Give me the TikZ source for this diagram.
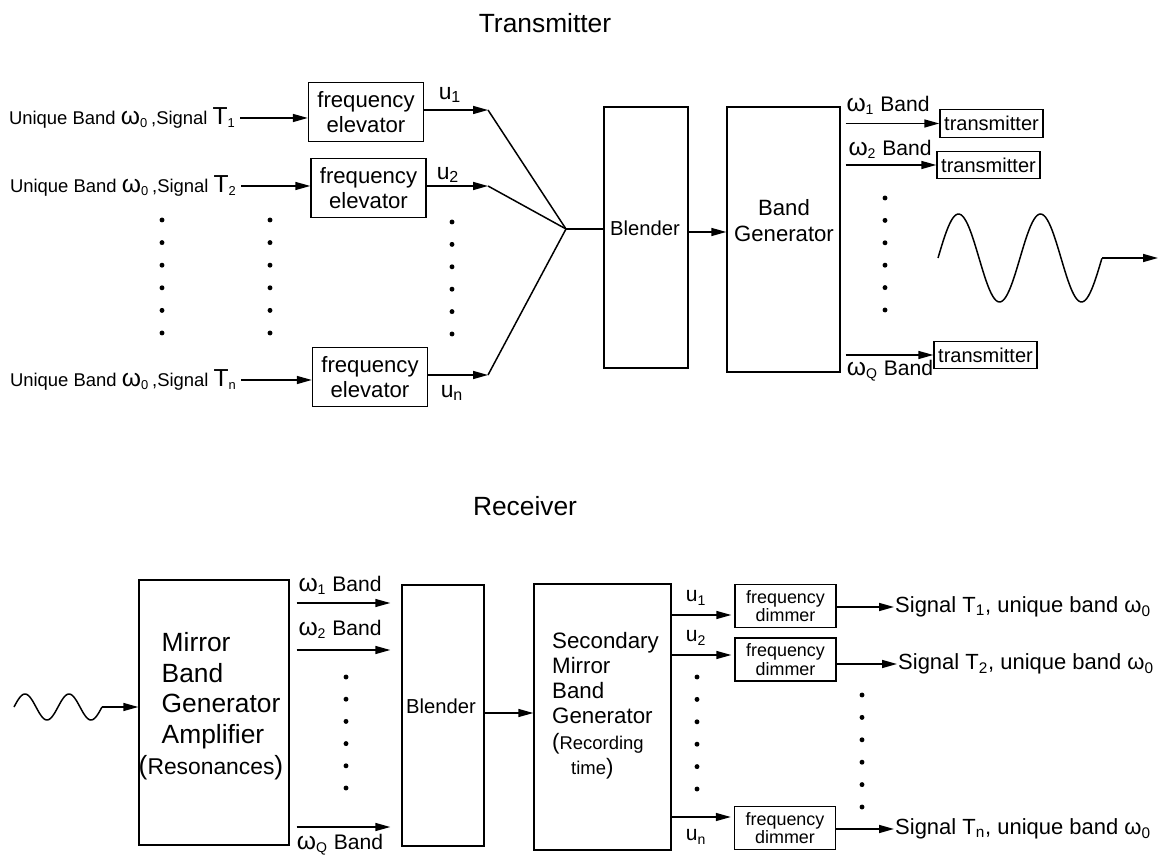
\documentclass[tikz,border=0pt]{standalone}
\usepackage{fontspec}
\setmainfont{Liberation Sans}
\usetikzlibrary{arrows.meta}
\newcommand{\omg}[1]{{\fontsize{14}{14}\selectfont ω}\textsubscript{#1}}

\begin{document}
\begin{tikzpicture}[x=0.02cm, y=-0.02cm,
      box/.style={draw, line width=0.8pt, inner sep=0pt},
      elev/.style={box, minimum width=2.3cm, minimum height=1.17cm, align=center,
                   font=\fontsize{12.6}{14.2}\selectfont},
      txbox/.style={box, minimum width=2.06cm, minimum height=0.55cm,
                    font=\fontsize{11.4}{12}\selectfont},
      dimbox/.style={box, minimum width=2.02cm, minimum height=0.86cm, align=center,
                     font=\fontsize{10.2}{10.5}\selectfont},
      boxtxt/.style={inner sep=0.5pt, align=center, font=\fontsize{12.6}{14.7}\selectfont},
      arr/.style={-{Triangle[length=0.3cm, width=0.16cm]}, line width=0.85pt},
      lnk/.style={line width=0.85pt},
      inlab/.style={anchor=east, inner sep=0.5pt, font=\fontsize{10.5}{12}\selectfont},
      blab/.style={inner sep=0.5pt, font=\fontsize{12}{14}\selectfont},
      ulab/.style={inner sep=0.5pt, font=\fontsize{13}{14}\selectfont},
      siglab/.style={anchor=west, inner sep=0.5pt, font=\fontsize{12.5}{14}\selectfont},
      title/.style={font=\fontsize{15}{17}\selectfont}]
  \useasboundingbox (0,0) rectangle (1159,857);

  % transmitter
  \node[title] (txtitle) at (545,23) {Transmitter};
  \node[inlab] (in1) at (237,118) {Unique Band \omg{0}\,,Signal {\fontsize{14}{14}\selectfont T}\textsubscript{1}};
  \node[inlab] (in2) at (238,186) {Unique Band \omg{0}\,,Signal {\fontsize{14}{14}\selectfont T}\textsubscript{2}};
  \node[inlab] (inn) at (238,380) {Unique Band \omg{0}\,,Signal {\fontsize{14}{14}\selectfont T}\textsubscript{n}};
  \node[elev] (elev1) at (366,112)   {frequency\\elevator};
  \node[elev] (elev2) at (368.5,188) {frequency\\elevator};
  \node[elev] (elevn) at (370,377)   {frequency\\elevator};
  \draw[arr, shorten <=0.06cm] (in1.east) -- (in1.east -| elev1.west);
  \draw[arr, shorten <=0.06cm] (in2.east) -- (in2.east -| elev2.west);
  \draw[arr, shorten <=0.06cm] (inn.east) -- (inn.east -| elevn.west);
  \foreach \k in {0,...,5} {
    \fill (162,{220+22.6*\k}) circle (1.4pt);
    \fill (270,{220+22.6*\k}) circle (1.4pt);
    \fill (452,{222+22.4*\k}) circle (1.4pt);
  }
  \coordinate (t1) at (488,110);
  \coordinate (t2) at (488,186);
  \coordinate (tn) at (488,375);
  \coordinate (mix) at (566,229);
  \draw[arr] (elev1.east |- t1) -- (t1);
  \draw[arr] (elev2.east |- t2) -- (t2);
  \draw[arr] (elevn.east |- tn) -- (tn);
  \node[ulab] (u1) at (450,95)  {u\textsubscript{1}};
  \node[ulab] (u2) at (448,175) {u\textsubscript{2}};
  \node[ulab] (un) at (452,393) {u\textsubscript{n}};
  \draw[lnk] (t1) -- (mix);
  \draw[lnk] (t2) -- (mix);
  \draw[lnk] (tn) -- (mix);
  \node[box, minimum width=1.68cm, minimum height=5.22cm] (blend) at (646,237.5) {};
  \node[boxtxt, font=\fontsize{11.5}{13}\selectfont] (blendtxt) at (645,228) {Blender};
  \draw[lnk] (mix) -- (mix -| blend.west);
  \node[box, minimum width=2.26cm, minimum height=5.3cm] (bgen) at (783.5,239.5) {};
  \node[boxtxt] (bgentxt) at (784,221) {Band\\Generator};
  \draw[arr] (blend.east |- 0,232) -- (bgen.west |- 0,232);
  \node[txbox] (tx1) at (991.5,123.5) {transmitter};
  \node[txbox] (tx2) at (988.5,165)   {transmitter};
  \node[txbox] (txq) at (985.5,355)   {transmitter};
  \draw[arr, shorten <=0.1cm] (bgen.east |- tx1.west) -- (tx1.west);
  \draw[arr, shorten <=0.1cm] (bgen.east |- tx2.west) -- (tx2.west);
  \draw[arr, shorten <=0.1cm] (bgen.east |- txq.west) -- (txq.west);
  \node[blab] (w1) at (888,105) {\omg{1} Band};
  \node[blab] (w2) at (890,149) {\omg{2} Band};
  \node[blab] (wq) at (890,371) {\omg{Q} Band};
  \foreach \k in {0,...,5}
    \fill (885,{198+22.4*\k}) circle (1.4pt);
  \draw[lnk] plot[domain=0:2, samples=100, smooth] ({938+82*\x},{258-44*sin(360*\x)});
  \coordinate (wend) at (1102,258);
  \coordinate (wtip) at (1158,258);
  \draw[arr] (wend) -- (wtip);

  % receiver
  \node[title] (rxtitle) at (525,506) {Receiver};
  \draw[lnk] plot[domain=0:2, samples=80, smooth] ({14+44*\x},{707-13*sin(360*\x)});
  \coordinate (rwend) at (102,707);
  \node[box, minimum width=3cm, minimum height=5.3cm] (mirror) at (214,712.5) {};
  \node[inner sep=0pt, align=left, font=\fontsize{15}{17.5}\selectfont] (mirtxt) at (211,706)
    {\hspace*{0.46cm}Mirror\\\hspace*{0.46cm}Band\\\hspace*{0.46cm}Generator\\\hspace*{0.46cm}Amplifier\\
     ({\fontsize{13}{17.5}\selectfont Resonances})};
  \draw[arr] (rwend) -- (mirror.west |- rwend);
  \node[box, minimum width=1.64cm, minimum height=5.22cm] (rblend) at (443,715.5) {};
  \node[boxtxt, font=\fontsize{11.5}{13}\selectfont] (rblendtxt) at (441,706) {Blender};
  \draw[arr, shorten <=0.14cm, shorten >=0.22cm] (mirror.east |- 0,603) -- (rblend.west |- 0,603);
  \draw[arr, shorten <=0.14cm, shorten >=0.22cm] (mirror.east |- 0,650) -- (rblend.west |- 0,650);
  \draw[arr, shorten <=0.14cm, shorten >=0.22cm] (mirror.east |- 0,827) -- (rblend.west |- 0,827);
  \node[blab] (rw1) at (340,585) {\omg{1} Band};
  \node[blab] (rw2) at (340,629) {\omg{2} Band};
  \node[blab] (rwq) at (340,845) {\omg{Q} Band};
  \foreach \k in {0,...,5}
    \fill (346,{677+22.2*\k}) circle (1.4pt);
  \node[box, minimum width=2.74cm, minimum height=5.32cm] (sec) at (602.5,717) {};
  \node[inner sep=0pt, align=left, font=\fontsize{12.7}{14.4}\selectfont] (sectxt) at (605.5,705.5)
    {Secondary\\Mirror\\Band\\Generator\\({\fontsize{10.5}{14.4}\selectfont Recording}\\
     \hspace*{0.38cm}{\fontsize{10.5}{14.4}\selectfont time})};
  \draw[arr] (rblend.east |- 0,713) -- (sec.west |- 0,713);
  \node[dimbox] (dim1) at (785.5,606)   {frequency\\dimmer};
  \node[dimbox] (dim2) at (785.5,659.5) {frequency\\dimmer};
  \node[dimbox] (dimn) at (785,828)     {frequency\\dimmer};
  \draw[arr, shorten >=0.06cm] (sec.east |- 0,615) -- (dim1.west |- 0,615);
  \draw[arr, shorten >=0.06cm] (sec.east |- 0,655) -- (dim2.west |- 0,655);
  \draw[arr, shorten >=0.06cm] (sec.east |- 0,817) -- (dimn.west |- 0,817);
  \node[blab] (ru1) at (696,598) {u\textsubscript{1}};
  \node[blab] (ru2) at (696,638) {u\textsubscript{2}};
  \node[blab] (run) at (696,837) {u\textsubscript{n}};
  \foreach \k in {0,...,5} {
    \fill (697,{677+22.4*\k}) circle (1.4pt);
    \fill (862,{695+22.4*\k}) circle (1.4pt);
  }
  \node[siglab] (sig1) at (894,607) {Signal T\textsubscript{1}, unique band ω\textsubscript{0}};
  \node[siglab] (sig2) at (897,664) {Signal T\textsubscript{2}, unique band ω\textsubscript{0}};
  \node[siglab] (sign) at (894,829) {Signal T\textsubscript{n}, unique band ω\textsubscript{0}};
  \draw[arr] (dim1.east |- sig1.west) -- (sig1.west);
  \draw[arr] (dim2.east |- sig2.west) -- (sig2.west);
  \draw[arr] (dimn.east |- sign.west) -- (sign.west);
\end{tikzpicture}
\end{document}
